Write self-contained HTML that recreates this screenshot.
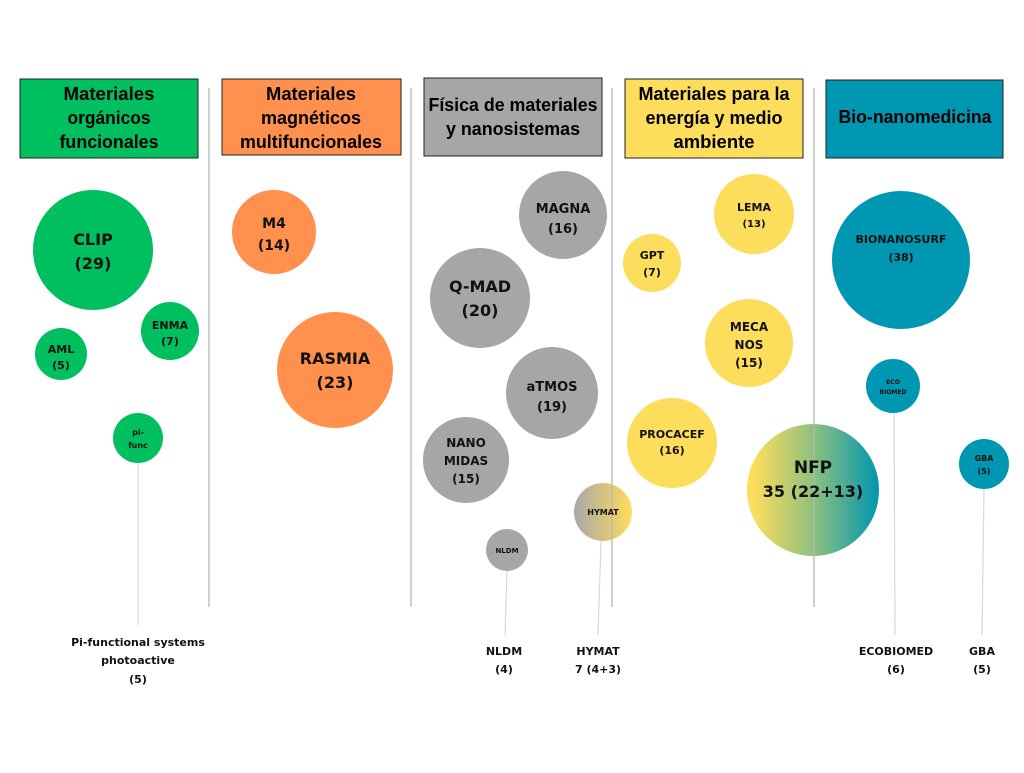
<!DOCTYPE html>
<html><head><meta charset="utf-8"><style>
html,body{margin:0;padding:0;background:#fff}
svg text{font-family:"DejaVu Sans","Liberation Sans",sans-serif;font-weight:bold;fill:#111;text-anchor:middle}
svg .h text{font-family:"Liberation Sans",sans-serif;font-size:18px;fill:#000}
</style></head><body>
<svg width="1024" height="768" viewBox="0 0 1024 768" xmlns="http://www.w3.org/2000/svg">
<defs>
<linearGradient id="gh" x1="0" x2="1"><stop offset="0" stop-color="#a8a8a8"/><stop offset="1" stop-color="#fddd5c"/></linearGradient>
<linearGradient id="gn" x1="0" x2="1"><stop offset="0.05" stop-color="#fddd5c"/><stop offset="0.5" stop-color="#8fc17e"/><stop offset="1" stop-color="#0096b0"/></linearGradient>
</defs>
<rect x="20" y="79" width="178" height="79" fill="#00bf5f" stroke="#222" stroke-width="1"/>
<rect x="222" y="79" width="179" height="76" fill="#ff904d" stroke="#222" stroke-width="1"/>
<rect x="424" y="78" width="178" height="78" fill="#a6a6a6" stroke="#222" stroke-width="1"/>
<rect x="625" y="79" width="178" height="79" fill="#fddd5c" stroke="#222" stroke-width="1"/>
<rect x="826" y="80" width="177" height="78" fill="#0097b2" stroke="#222" stroke-width="1"/>
<g class="h">
<text x="109" y="100" textLength="91" lengthAdjust="spacingAndGlyphs">Materiales</text><text x="109" y="124" textLength="83" lengthAdjust="spacingAndGlyphs">orgánicos</text><text x="109" y="148" textLength="99" lengthAdjust="spacingAndGlyphs">funcionales</text>
<text x="311" y="100" textLength="90" lengthAdjust="spacingAndGlyphs">Materiales</text><text x="311" y="124" textLength="100" lengthAdjust="spacingAndGlyphs">magnéticos</text><text x="311" y="148" textLength="142" lengthAdjust="spacingAndGlyphs">multifuncionales</text>
<text x="513" y="111" textLength="169" lengthAdjust="spacingAndGlyphs">Física de materiales</text><text x="513" y="135" textLength="134" lengthAdjust="spacingAndGlyphs">y nanosistemas</text>
<text x="714" y="100" textLength="151" lengthAdjust="spacingAndGlyphs">Materiales para la</text><text x="714" y="124" textLength="137" lengthAdjust="spacingAndGlyphs">energía y medio</text><text x="714" y="148" textLength="81" lengthAdjust="spacingAndGlyphs">ambiente</text>
<text x="915" y="123" textLength="153" lengthAdjust="spacingAndGlyphs">Bio-nanomedicina</text>
</g>
<g stroke="#d8d8d8" stroke-width="1.2">
<line x1="138" y1="463" x2="138" y2="625"/>
<line x1="507" y1="571" x2="505" y2="635"/>
<line x1="601" y1="541" x2="598" y2="635"/>
<line x1="894" y1="413" x2="895" y2="635"/>
<line x1="984" y1="489" x2="982" y2="635"/>
</g>
<g fill="#00bf5f">
<circle cx="93" cy="250" r="60"/><circle cx="61" cy="354" r="26"/><circle cx="170" cy="331" r="29"/><circle cx="138" cy="438" r="25"/>
</g>
<g fill="#ff904d"><circle cx="274" cy="232" r="42"/><circle cx="335" cy="370" r="58"/></g>
<g fill="#a6a6a6">
<circle cx="563" cy="215" r="44"/><circle cx="480" cy="298" r="50"/><circle cx="552" cy="393" r="46"/><circle cx="466" cy="460" r="43"/><circle cx="507" cy="550" r="21"/>
</g>
<circle cx="603" cy="512" r="29" fill="url(#gh)"/>
<g fill="#fddd5c">
<circle cx="652" cy="263" r="29"/><circle cx="754" cy="214" r="40"/><circle cx="749" cy="343" r="44"/><circle cx="672" cy="443" r="45"/>
</g>
<circle cx="813" cy="490" r="66" fill="url(#gn)"/>
<g fill="#0097b2"><circle cx="901" cy="260" r="69"/><circle cx="893" cy="386" r="27"/><circle cx="984" cy="464" r="25"/></g>
<g stroke="#b5b5b5" stroke-width="1.3">
<line x1="209" y1="88" x2="209" y2="607"/><line x1="411" y1="88" x2="411" y2="607"/>
<line x1="612" y1="88" x2="612" y2="607"/><line x1="814" y1="88" x2="814" y2="607"/>
</g>
<text x="93" y="245" font-size="16">CLIP</text><text x="93" y="269" font-size="16">(29)</text>
<text x="61" y="353" font-size="11">AML</text><text x="61" y="369" font-size="11">(5)</text>
<text x="170" y="329" font-size="11">ENMA</text><text x="170" y="345" font-size="11">(7)</text>
<text x="138" y="435" font-size="8">pi-</text><text x="138" y="448" font-size="8">func</text>
<text x="274" y="228" font-size="14">M4</text><text x="274" y="250" font-size="14">(14)</text>
<text x="335" y="364" font-size="16">RASMIA</text><text x="335" y="388" font-size="16">(23)</text>
<text x="563" y="213" font-size="13">MAGNA</text><text x="563" y="233" font-size="13">(16)</text>
<text x="480" y="292" font-size="16">Q-MAD</text><text x="480" y="316" font-size="16">(20)</text>
<text x="552" y="391" font-size="13">aTMOS</text><text x="552" y="411" font-size="13">(19)</text>
<text x="466" y="447" font-size="12">NANO</text><text x="466" y="465" font-size="12">MIDAS</text><text x="466" y="483" font-size="12">(15)</text>
<text x="507" y="553" font-size="7">NLDM</text>
<text x="603" y="515" font-size="8">HYMAT</text>
<text x="652" y="259" font-size="11">GPT</text><text x="652" y="276" font-size="11">(7)</text>
<text x="754" y="211" font-size="11">LEMA</text><text x="754" y="227" font-size="10">(13)</text>
<text x="749" y="331" font-size="12">MECA</text><text x="749" y="349" font-size="12">NOS</text><text x="749" y="367" font-size="12">(15)</text>
<text x="672" y="438" font-size="11">PROCACEF</text><text x="672" y="454" font-size="11">(16)</text>
<text x="813" y="473" font-size="17">NFP</text><text x="813" y="497" font-size="16">35 (22+13)</text>
<text x="901" y="243" font-size="11">BIONANOSURF</text><text x="901" y="261" font-size="11">(38)</text>
<text x="893" y="384" font-size="6">ECO</text><text x="893" y="394" font-size="6">BIOMED</text>
<text x="984" y="461" font-size="8">GBA</text><text x="984" y="474" font-size="8">(5)</text>
<g font-size="11">
<text x="138" y="646">Pi-functional systems</text><text x="138" y="664">photoactive</text><text x="138" y="683">(5)</text>
<text x="504" y="655">NLDM</text><text x="504" y="673">(4)</text>
<text x="598" y="655">HYMAT</text><text x="598" y="673">7 (4+3)</text>
<text x="896" y="655">ECOBIOMED</text><text x="896" y="673">(6)</text>
<text x="982" y="655">GBA</text><text x="982" y="673">(5)</text>
</g>
</svg>
</body></html>
